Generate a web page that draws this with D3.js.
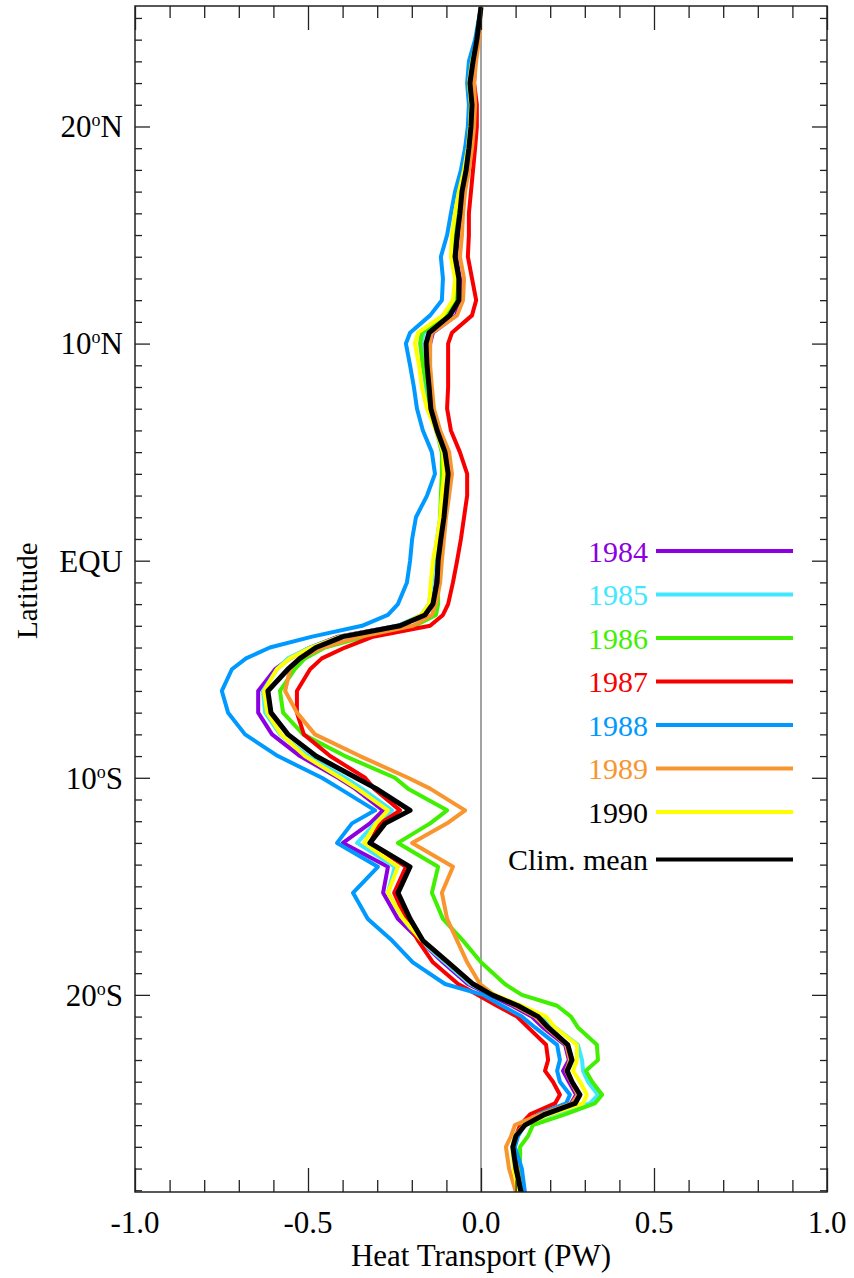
<!DOCTYPE html>
<html>
<head>
<meta charset="utf-8">
<script src="https://cdn.jsdelivr.net/npm/d3@7"></script>
<style>
  body { margin: 0; background: #fff; }
  text { font-family: 'Liberation Serif', 'Times New Roman', serif; }
</style>
</head>
<body>
<script>
// latitude grid (deg, + = north)
const lats = [25.5, 24, 23, 22, 21, 20, 19, 18, 17, 16,
  15, 14, 13, 12, 11.3, 10.5, 10, 9, 8, 7,
  6, 5, 4, 3, 2, 1, 0, -1, -2, -2.5,
  -3, -3.5, -4, -4.5, -5, -6, -7, -8, -9, -10,
  -10.5, -11.5, -12.1, -13, -14.1, -15.3, -16.5, -17.5, -18.5, -19.5,
  -20, -20.5, -21, -21.5, -22.3, -23, -23.5, -24, -24.6, -25,
  -25.5, -26, -26.5, -27, -28, -29.1];

// heat transport (PW)
const y1984 = [0, -0.012, -0.023, -0.032, -0.026, -0.029, -0.035, -0.043, -0.055, -0.061,
  -0.066, -0.072, -0.061, -0.058, -0.072, -0.139, -0.147, -0.150, -0.145, -0.142,
  -0.124, -0.104, -0.095, -0.101, -0.107, -0.116, -0.124, -0.130, -0.142, -0.165,
  -0.240, -0.413, -0.494, -0.552, -0.595, -0.644, -0.644, -0.604, -0.523, -0.413,
  -0.364, -0.283, -0.321, -0.399, -0.269, -0.283, -0.240, -0.176, -0.110, -0.038,
  0.026, 0.090, 0.147, 0.179, 0.243, 0.254, 0.237, 0.254, 0.275, 0.260,
  0.176, 0.121, 0.098, 0.092, 0.101, 0.116];
const y1985 = [0, -0.014, -0.026, -0.035, -0.029, -0.032, -0.038, -0.049, -0.061, -0.066,
  -0.075, -0.081, -0.069, -0.069, -0.098, -0.165, -0.173, -0.168, -0.159, -0.150,
  -0.130, -0.113, -0.110, -0.113, -0.118, -0.127, -0.136, -0.142, -0.150, -0.173,
  -0.240, -0.407, -0.494, -0.558, -0.590, -0.630, -0.624, -0.581, -0.500, -0.393,
  -0.344, -0.257, -0.306, -0.358, -0.249, -0.269, -0.225, -0.176, -0.104, -0.032,
  0.032, 0.104, 0.176, 0.214, 0.280, 0.292, 0.295, 0.309, 0.338, 0.315,
  0.205, 0.127, 0.107, 0.095, 0.104, 0.116];
const y1986 = [0, -0.014, -0.026, -0.035, -0.029, -0.032, -0.038, -0.049, -0.064, -0.069,
  -0.078, -0.084, -0.072, -0.072, -0.101, -0.171, -0.176, -0.168, -0.156, -0.145,
  -0.127, -0.113, -0.113, -0.116, -0.118, -0.121, -0.124, -0.124, -0.124, -0.130,
  -0.191, -0.335, -0.451, -0.509, -0.538, -0.581, -0.572, -0.514, -0.393, -0.249,
  -0.211, -0.098, -0.147, -0.240, -0.124, -0.142, -0.110, -0.052, 0, 0.069,
  0.118, 0.220, 0.260, 0.280, 0.335, 0.338, 0.303, 0.321, 0.350, 0.329,
  0.243, 0.150, 0.136, 0.113, 0.113, 0.118];
const y1987 = [0, -0.009, -0.017, -0.020, -0.012, -0.012, -0.017, -0.023, -0.029, -0.035,
  -0.035, -0.038, -0.026, -0.014, -0.026, -0.084, -0.095, -0.095, -0.095, -0.098,
  -0.087, -0.061, -0.040, -0.040, -0.049, -0.058, -0.069, -0.081, -0.095, -0.110,
  -0.147, -0.312, -0.393, -0.460, -0.494, -0.532, -0.532, -0.512, -0.436, -0.335,
  -0.309, -0.234, -0.292, -0.321, -0.217, -0.251, -0.217, -0.182, -0.139, -0.066,
  -0.009, 0.046, 0.104, 0.136, 0.188, 0.194, 0.185, 0.208, 0.228, 0.214,
  0.142, 0.113, 0.101, 0.095, 0.104, 0.118];
const y1988 = [0, -0.017, -0.035, -0.040, -0.035, -0.038, -0.046, -0.058, -0.075, -0.087,
  -0.098, -0.116, -0.110, -0.113, -0.147, -0.205, -0.217, -0.205, -0.194, -0.185,
  -0.168, -0.142, -0.133, -0.156, -0.188, -0.199, -0.205, -0.214, -0.240, -0.269,
  -0.344, -0.488, -0.610, -0.679, -0.720, -0.749, -0.731, -0.682, -0.587, -0.460,
  -0.408, -0.306, -0.373, -0.416, -0.298, -0.370, -0.327, -0.257, -0.197, -0.104,
  0.006, 0.061, 0.118, 0.156, 0.220, 0.228, 0.220, 0.228, 0.257, 0.246,
  0.165, 0.124, 0.107, 0.098, 0.118, 0.127];
const y1989 = [0, -0.006, -0.014, -0.020, -0.017, -0.020, -0.026, -0.035, -0.046, -0.052,
  -0.055, -0.061, -0.049, -0.052, -0.069, -0.142, -0.147, -0.147, -0.142, -0.136,
  -0.118, -0.092, -0.084, -0.092, -0.101, -0.107, -0.113, -0.118, -0.130, -0.142,
  -0.197, -0.350, -0.457, -0.523, -0.552, -0.566, -0.532, -0.480, -0.350, -0.211,
  -0.147, -0.046, -0.098, -0.199, -0.081, -0.113, -0.098, -0.069, -0.040, -0.003,
  0.038, 0.098, 0.156, 0.188, 0.246, 0.257, 0.246, 0.260, 0.280, 0.263,
  0.171, 0.098, 0.087, 0.072, 0.081, 0.101];
const y1990 = [0, -0.012, -0.026, -0.035, -0.029, -0.032, -0.038, -0.049, -0.064, -0.075,
  -0.084, -0.087, -0.075, -0.081, -0.110, -0.182, -0.191, -0.179, -0.171, -0.156,
  -0.130, -0.110, -0.107, -0.113, -0.118, -0.127, -0.139, -0.145, -0.150, -0.173,
  -0.234, -0.407, -0.491, -0.552, -0.590, -0.627, -0.618, -0.578, -0.509, -0.407,
  -0.358, -0.269, -0.303, -0.338, -0.240, -0.269, -0.225, -0.171, -0.098, -0.026,
  0.040, 0.118, 0.188, 0.214, 0.277, 0.277, 0.266, 0.286, 0.306, 0.295,
  0.199, 0.124, 0.098, 0.090, 0.095, 0.107];
const yMean = [0, -0.012, -0.023, -0.032, -0.026, -0.029, -0.035, -0.043, -0.055, -0.061,
  -0.069, -0.075, -0.064, -0.064, -0.090, -0.150, -0.159, -0.156, -0.150, -0.145,
  -0.127, -0.104, -0.095, -0.101, -0.107, -0.116, -0.124, -0.127, -0.139, -0.162,
  -0.234, -0.399, -0.477, -0.523, -0.558, -0.616, -0.607, -0.558, -0.477, -0.361,
  -0.303, -0.205, -0.277, -0.321, -0.205, -0.240, -0.205, -0.168, -0.095, -0.023,
  0.032, 0.107, 0.165, 0.194, 0.251, 0.263, 0.249, 0.263, 0.286, 0.272,
  0.185, 0.127, 0.101, 0.092, 0.101, 0.116];

const names = ['1984', '1985', '1986', '1987', '1988', '1989', '1990', 'Clim. mean'];
const colors = ['#8a00e0', '#40e8ff', '#40f000', '#f80000', '#0099ff', '#f8952f', '#ffff00', '#000000'];
const labelColors = ['#8a00e0', '#40e8ff', '#40f000', '#f80000', '#0099ff', '#f8952f', '#000000', '#000000'];

const xMajor = [-1, -0.5, 0, 0.5, 1];
const yMajor = [20, 10, 0, -10, -20];
const yLabels = [['20', 'N'], ['10', 'N'], ['EQU'], ['10', 'S'], ['20', 'S']];

const W = 854, H = 1278;
const pLeft = 135, pRight = 827, pTop = 6, pBottom = 1192;

const series = [y1984, y1985, y1986, y1987, y1988, y1989, y1990, yMean].map((vals, i) => ({
  name: names[i],
  color: colors[i],
  labelColor: labelColors[i],
  values: d3.zip(lats, vals)
}));

const svg = d3.select('body').append('svg')
    .attr('width', W)
    .attr('height', H);

const x = d3.scaleLinear().domain([-1, 1]).range([pLeft, pRight]);
const y = d3.scaleLinear().domain([-29.08, 25.55]).range([pBottom, pTop]);

svg.append('clipPath').attr('id', 'plot')
  .append('rect')
    .attr('x', pLeft).attr('y', pTop)
    .attr('width', pRight - pLeft).attr('height', pBottom - pTop);

// zero line
svg.append('line')
    .attr('x1', x(0)).attr('x2', x(0))
    .attr('y1', pTop).attr('y2', pBottom)
    .attr('stroke', '#444')
    .attr('stroke-width', 1);

const line = d3.line()
    .x(d => x(d[1]))
    .y(d => y(d[0]));

svg.append('g')
    .attr('clip-path', 'url(#plot)')
  .selectAll('path')
  .data(series)
  .join('path')
    .attr('fill', 'none')
    .attr('stroke', d => d.color)
    .attr('stroke-width', d => d.name === 'Clim. mean' ? 5 : 4)
    .attr('stroke-linejoin', 'round')
    .attr('d', d => line(d.values));

// frame + ticks (inward on all four sides)
function tickGroup(axis, transform, values, size) {
  svg.append('g')
      .attr('transform', transform)
      .call(axis.tickValues(values).tickSize(size).tickFormat(''))
      .call(g => g.select('.domain').remove())
      .call(g => g.selectAll('line').attr('stroke', '#222').attr('stroke-width', 1.3));
}

const xMinor = d3.range(-10, 11).map(i => i / 10).filter(v => !xMajor.some(m => Math.abs(m - v) < 1e-9));
const yMinor = d3.range(-29, 26).filter(v => v % 10 !== 0);

tickGroup(d3.axisBottom(x), `translate(0,${pBottom})`, xMajor, -24);
tickGroup(d3.axisBottom(x), `translate(0,${pBottom})`, xMinor, -12);
tickGroup(d3.axisTop(x), `translate(0,${pTop})`, xMajor, -24);
tickGroup(d3.axisTop(x), `translate(0,${pTop})`, xMinor, -12);
tickGroup(d3.axisLeft(y), `translate(${pLeft},0)`, yMajor, -15);
tickGroup(d3.axisLeft(y), `translate(${pLeft},0)`, yMinor, -7);
tickGroup(d3.axisRight(y), `translate(${pRight},0)`, yMajor, -15);
tickGroup(d3.axisRight(y), `translate(${pRight},0)`, yMinor, -7);

svg.append('rect')
    .attr('x', pLeft).attr('y', pTop)
    .attr('width', pRight - pLeft).attr('height', pBottom - pTop)
    .attr('fill', 'none')
    .attr('stroke', '#222')
    .attr('stroke-width', 1.5);

// tick labels
svg.append('g')
  .selectAll('text')
  .data(xMajor)
  .join('text')
    .attr('x', d => x(d))
    .attr('y', pBottom + 41)
    .attr('text-anchor', 'middle')
    .attr('font-size', 31)
    .text(d => d.toFixed(1));

const yl = svg.append('g')
  .selectAll('text')
  .data(yMajor)
  .join('text')
    .attr('x', pLeft - 12)
    .attr('y', d => y(d))
    .attr('dy', '0.35em')
    .attr('text-anchor', 'end')
    .attr('font-size', 31);

yl.each(function(d, i) {
  const t = d3.select(this);
  const parts = yLabels[i];
  if (parts.length === 1) {
    t.text(parts[0]);
    return;
  }
  t.append('tspan').text(parts[0]);
  t.append('tspan').attr('font-size', 18).attr('dy', -11).text('o');
  t.append('tspan').attr('dy', 11).text(parts[1]);
});

// axis titles
svg.append('text')
    .attr('x', x(0))
    .attr('y', 1266)
    .attr('text-anchor', 'middle')
    .attr('font-size', 31)
    .text('Heat Transport (PW)');

svg.append('text')
    .attr('transform', `translate(37,${y(0) + 30}) rotate(-90)`)
    .attr('text-anchor', 'middle')
    .attr('font-size', 29)
    .text('Latitude');

// legend
const legend = svg.append('g')
  .selectAll('g')
  .data(series)
  .join('g')
    .attr('transform', (d, i) => `translate(0,${551 + i * 43.5 + (i === 7 ? 4 : 0)})`);

legend.append('text')
    .attr('x', 648)
    .attr('dy', '0.35em')
    .attr('text-anchor', 'end')
    .attr('font-size', 30)
    .attr('fill', d => d.labelColor)
    .text(d => d.name);

legend.append('line')
    .attr('x1', 656).attr('x2', 793)
    .attr('stroke', d => d.color)
    .attr('stroke-width', 4);
</script>
</body>
</html>
